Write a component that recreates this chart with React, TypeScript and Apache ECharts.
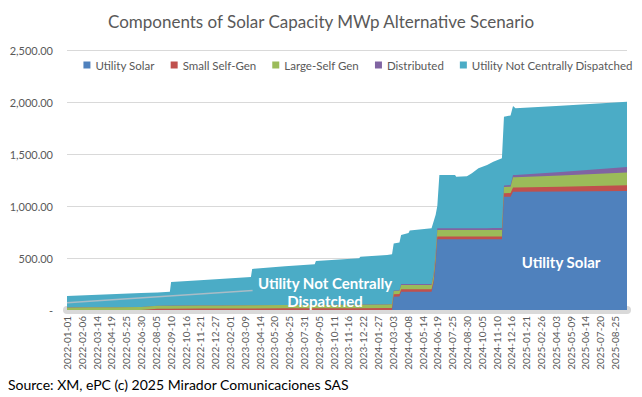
import React, { useEffect, useRef } from 'react';
import * as echarts from 'echarts';

const chartTitle = 'Components of Solar Capacity MWp Alternative Scenario';
const sourceNote = 'Source: XM, ePC (c) 2025 Mirador Comunicaciones SAS';
const seriesNames = ['Utility Solar', 'Small Self-Gen', 'Large-Self Gen', 'Distributed', 'Utility Not Centrally Dispatched'];
const seriesColors = ['#4F81BD', '#C0504D', '#9BBB59', '#8064A2', '#4BACC6'];
const axisStart = '2022-01-01';
const axisEnd = '2025-09-23';
const tickEveryDays = 36;
const yTicks = [0, 500, 1000, 1500, 2000, 2500];

const dates = [
  '2022-01-01', '2022-03-02', '2022-05-01', '2022-06-30', '2022-08-09', '2022-09-08', '2022-09-11',
  '2022-11-20', '2023-01-07', '2023-03-24', '2023-03-27', '2023-06-15', '2023-08-26', '2023-08-29',
  '2023-12-12', '2023-12-15', '2024-02-18', '2024-03-01', '2024-03-05', '2024-03-19', '2024-03-23',
  '2024-04-10', '2024-04-13', '2024-06-05', '2024-06-10', '2024-06-15', '2024-06-19', '2024-06-24',
  '2024-08-01', '2024-08-04', '2024-08-30', '2024-09-11', '2024-09-27', '2024-10-18', '2024-11-02',
  '2024-11-23', '2024-11-28', '2024-12-14', '2024-12-20', '2024-12-26', '2025-04-15', '2025-09-23',
];
const utilitySolar = [
  0, 0, 0, 0, 0, 0, 0,
  0, 0, 0, 0, 0, 0, 0,
  0, 0, 0, 0, 128, 130, 176,
  176, 176, 176, 260, 450, 680, 680,
  680, 680, 680, 680, 680, 680, 680,
  680, 1090, 1090, 1138, 1138, 1140, 1144,
];
const smallSelfGen = [
  0, 0, 0, 0, 12, 13, 13,
  14, 14, 15, 15, 16, 16, 16,
  18, 18, 19, 20, 24, 24, 23,
  23, 23, 23, 24, 25, 26, 26,
  26, 26, 26, 26, 26, 26, 26,
  26, 33, 34, 40, 40, 45, 55,
];
const largeSelfGen = [
  25, 26, 27, 28, 28, 28, 28,
  29, 30, 30, 30, 31, 32, 32,
  33, 33, 34, 35, 30, 30, 41,
  41, 41, 42, 50, 60, 64, 64,
  64, 64, 64, 64, 64, 64, 64,
  64, 60, 62, 99, 99, 108, 122,
];
const distributed = [
  2, 2, 2, 2, 2, 2, 2,
  2, 2, 2, 2, 2, 2, 2,
  3, 3, 3, 3, 5, 5, 10,
  10, 10, 10, 12, 14, 16, 16,
  16, 16, 16, 17, 17, 17, 18,
  18, 15, 15, 22, 22, 35, 54,
];
const notCentrallyDispatched = [
  108, 117, 126, 133, 126, 132, 227,
  240, 252, 271, 348, 371, 390, 420,
  443, 458, 474, 477, 453, 461, 470,
  490, 515, 534, 504, 366, 214, 512,
  512, 496, 499, 527, 575, 607, 638,
  670, 661, 669, 663, 640, 637, 628,
];
// faint grey line drawn inside the top area in the original
const guideDates = ['2022-01-01', '2023-03-28'];
const guideValues = [70, 187];

const DAY = 86400000;
const startMs = Date.parse(axisStart + 'T00:00:00Z');
const dayOf = (d: string) => Math.round((Date.parse(d + 'T00:00:00Z') - startMs) / DAY);
const labelOf = (day: number) => new Date(startMs + day * DAY).toISOString().slice(0, 10);

const FONT = 'Lato, "Noto Sans", sans-serif';

export default function App() {
  const ref = useRef<HTMLDivElement>(null);
  useEffect(() => {
    if (!ref.current) return;
    const chart = echarts.init(ref.current, undefined, { renderer: 'svg' });
    const layers = [utilitySolar, smallSelfGen, largeSelfGen, distributed, notCentrallyDispatched];
    // stacked tops, computed from the layer arrays (bottom to top)
    const running = dates.map(() => 0);
    const tops = layers.map((vals) => vals.map((v, j) => (running[j] += v)));
    const series: any[] = [];
    for (let i = layers.length - 1; i >= 0; i--) {
      series.push({
        name: seriesNames[i],
        type: 'line',
        data: dates.map((d, j) => [dayOf(d), tops[i][j]]),
        showSymbol: false,
        symbol: 'none',
        lineStyle: { width: 0, color: seriesColors[i] },
        areaStyle: { color: seriesColors[i], opacity: 1 },
        itemStyle: { color: seriesColors[i] },
        color: seriesColors[i],
        tooltip: { show: false },
        z: 2,
        zlevel: 0,
      });
    }
    series.push({
      name: 'guide',
      type: 'line',
      data: guideDates.map((d, j) => [dayOf(d), guideValues[j]]),
      showSymbol: false,
      symbol: 'none',
      lineStyle: { width: 1.5, color: '#a9bcc6' },
      z: 5,
    });
    chart.setOption({
      animation: false,
      backgroundColor: '#ffffff',
      textStyle: { fontFamily: FONT },
      title: {
        text: chartTitle,
        left: 'center',
        top: 8,
        textStyle: { fontFamily: FONT, fontSize: 17, fontWeight: 'normal', color: '#595959' },
      },
      legend: {
        data: seriesNames.map((n, i) => ({ name: n, itemStyle: { color: seriesColors[i] } })),
        right: 4,
        top: 54,
        itemWidth: 7,
        itemHeight: 7,
        itemGap: 16,
        icon: 'rect',
        textStyle: { fontFamily: FONT, fontSize: 11.5, color: '#595959' },
      },
      grid: { left: 67, right: 15, top: 50, bottom: 87 },
      xAxis: {
        type: 'value',
        min: 0,
        max: dayOf(axisEnd),
        interval: tickEveryDays,
        axisLine: { show: true, onZero: false, lineStyle: { color: '#d9d9d9', width: 8 } },
        axisTick: { show: false },
        splitLine: { show: false },
        axisLabel: {
          rotate: 90,
          margin: 6,
          showMaxLabel: false,
          fontFamily: FONT,
          fontSize: 10,
          color: '#595959',
          formatter: (v: number) => labelOf(v),
        },
      },
      yAxis: {
        type: 'value',
        min: yTicks[0],
        max: yTicks[yTicks.length - 1],
        interval: yTicks[1] - yTicks[0],
        axisLine: { show: false },
        axisTick: { show: false },
        splitLine: { lineStyle: { color: '#d9d9d9', width: 1 } },
        axisLabel: {
          margin: 14,
          fontFamily: FONT,
          fontSize: 11,
          color: '#595959',
          formatter: (v: number) =>
            v === 0 ? '-' : v.toLocaleString('en-US', { minimumFractionDigits: 2, maximumFractionDigits: 2 }),
        },
      },
      graphic: [
        {
          type: 'text',
          left: 8,
          top: 377,
          style: { text: sourceNote, font: `14px ${FONT}`, fill: '#000000' },
        },
        {
          type: 'text',
          x: 325,
          y: 283,
          z: 10,
          style: {
            text: 'Utility Not Centrally',
            font: `bold 15px ${FONT}`,
            fill: '#ffffff',
            align: 'center',
            verticalAlign: 'middle',
          },
        },
        {
          type: 'text',
          x: 325,
          y: 301,
          z: 10,
          style: {
            text: 'Dispatched',
            font: `bold 15px ${FONT}`,
            fill: '#ffffff',
            align: 'center',
            verticalAlign: 'middle',
          },
        },
        {
          type: 'text',
          x: 561,
          y: 262,
          z: 10,
          style: {
            text: 'Utility Solar',
            font: `bold 15px ${FONT}`,
            fill: '#ffffff',
            align: 'center',
            verticalAlign: 'middle',
          },
        },
      ],
      series,
    });
    return () => chart.dispose();
  }, []);
  return (
    <div
      ref={ref}
      style={{ position: 'fixed', left: 0, top: 0, width: 642, height: 397, background: '#fff' }}
    />
  );
}
